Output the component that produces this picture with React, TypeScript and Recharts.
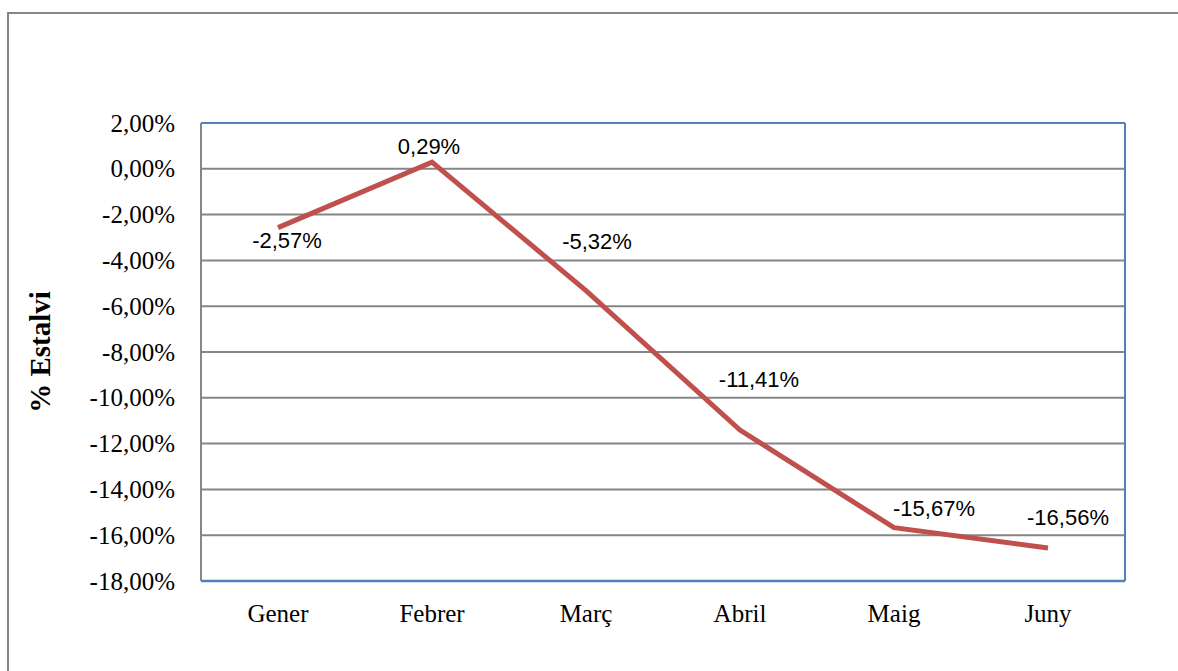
import type { ReactElement } from 'react';
import {
  CartesianGrid,
  Line,
  LineChart,
  XAxis,
  YAxis,
} from 'recharts';

// Monthly saving (%)
const MONTHS = ['Gener', 'Febrer', 'Març', 'Abril', 'Maig', 'Juny'];
const SAVING = [-2.57, 0.29, -5.32, -11.41, -15.67, -16.56];
const Y_TICKS = [2, 0, -2, -4, -6, -8, -10, -12, -14, -16, -18];

// where each data label sits relative to its point (Excel-style manual placement)
const LABEL_SHIFT: [number, number][] = [
  [9, 13],
  [-3, -16],
  [11, -49],
  [19, -51],
  [40, -19],
  [20, -31],
];

const RED = '#c0504d';
const GRID = '#868686';
const BLUE = '#4f81bd';
const SERIF = '"Liberation Serif", "Times New Roman", serif';
const SANS = '"Liberation Sans", Arial, sans-serif';

const fmt = (v: number) => `${v.toFixed(2).replace('.', ',')}%`;

function PointLabel(props: any): ReactElement | null {
  const { x, y, index, value } = props;
  if (x == null || y == null) return null;
  const [dx, dy] = LABEL_SHIFT[index] ?? [0, -16];
  return (
    <text
      x={x + dx}
      y={y + dy}
      textAnchor="middle"
      dominantBaseline="central"
      style={{ fontFamily: SANS, fontSize: 22 }}
      fill="#000"
    >
      {fmt(Number(value))}
    </text>
  );
}

function YTick(props: any): ReactElement {
  const { x, y, payload } = props;
  return (
    <text
      x={x}
      y={y}
      textAnchor="end"
      dominantBaseline="central"
      style={{ fontFamily: SERIF, fontSize: 25 }}
      fill="#000"
    >
      {fmt(payload.value)}
    </text>
  );
}

function XTick(props: any): ReactElement {
  const { x, y, payload } = props;
  return (
    <text
      x={x}
      y={y}
      textAnchor="middle"
      dominantBaseline="central"
      style={{ fontFamily: SERIF, fontSize: 25 }}
      fill="#000"
    >
      {payload.value}
    </text>
  );
}

function AxisTitle(props: any): ReactElement {
  const { viewBox } = props;
  const cy = viewBox.y + viewBox.height / 2;
  return (
    <text
      x={40}
      y={cy}
      transform={`rotate(-90 40 ${cy})`}
      textAnchor="middle"
      dominantBaseline="central"
      style={{ fontFamily: SERIF, fontWeight: 'bold', fontSize: 29 }}
      fill="#000"
    >
      % Estalvi
    </text>
  );
}

export default function App(): ReactElement {
  const data = MONTHS.map((m, i) => ({ month: m, saving: SAVING[i] }));

  return (
    <div
      style={{
        position: 'fixed',
        left: 0,
        top: 0,
        width: 1178,
        height: 671,
        overflow: 'hidden',
        background: '#fff',
      }}
    >
      <div
        style={{
          position: 'absolute',
          left: 7,
          top: 12,
          width: 1200,
          height: 700,
          border: `2px solid ${GRID}`,
        }}
      />
      <div style={{ position: 'absolute', left: 0, top: 0 }}>
        <LineChart
          width={1178}
          height={671}
          data={data}
          margin={{ top: 123, right: 53, bottom: 30, left: 81 }}
        >
          <CartesianGrid vertical={false} stroke={GRID} strokeWidth={2} />
          {/* blue frame on the top and right of the plot area */}
          <CartesianGrid
            stroke={BLUE}
            strokeWidth={2}
            horizontalCoordinatesGenerator={({ offset }: any) => [offset.top]}
            verticalCoordinatesGenerator={({ offset }: any) => [
              offset.left + offset.width,
            ]}
          />
          <XAxis
            dataKey="month"
            height={60}
            padding={{ left: 77, right: 77 }}
            axisLine={{ stroke: BLUE, strokeWidth: 2.5 }}
            tickLine={false}
            tickMargin={26}
            tick={<XTick />}
          />
          <YAxis
            width={120}
            domain={[-18, 2]}
            ticks={Y_TICKS}
            interval={0}
            axisLine={{ stroke: GRID, strokeWidth: 2 }}
            tickLine={false}
            tickMargin={20}
            tick={<YTick />}
            label={<AxisTitle />}
          />
          <Line
            type="linear"
            dataKey="saving"
            stroke={RED}
            strokeWidth={5}
            dot={false}
            activeDot={false}
            isAnimationActive={false}
            label={<PointLabel />}
          />
        </LineChart>
      </div>
    </div>
  );
}
